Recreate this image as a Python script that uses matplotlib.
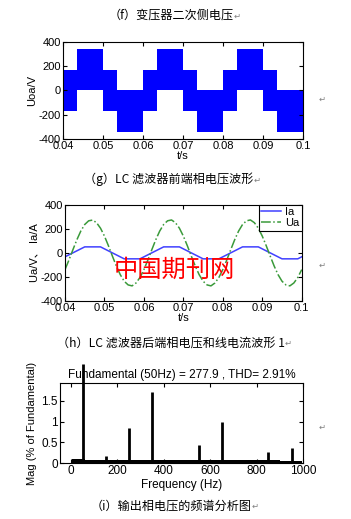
import numpy as np
import matplotlib
matplotlib.use('Agg')
import matplotlib.pyplot as plt

plt.rcParams['font.family'] = ['Liberation Sans', 'Noto Sans CJK SC', 'DejaVu Sans']
plt.rcParams['axes.unicode_minus'] = False

### (f) secondary side voltage: PWM envelope, band edges in time
uoa_edges = [0.040, 0.0435, 0.050, 0.0535, 0.060, 0.0635, 0.070,
             0.0735, 0.080, 0.0835, 0.090, 0.0935, 0.100]
uoa_high = [170, 340, 170, 0, 170, 340, 170, 0, 170, 340, 170, 0]
uoa_low = [-170, 0, -170, -340, -170, 0, -170, -340, -170, 0, -170, -340]

### (h) phase voltage / line current after the LC filter
ia_t = [0.040, 0.045, 0.049, 0.055, 0.059, 0.065, 0.069, 0.075,
        0.079, 0.085, 0.089, 0.095, 0.099, 0.100]
ia = [-33, 50, 50, -50, -50, 50, 50, -50, -50, 50, 50, -50, -50, -33]

ua_t = np.linspace(0.04, 0.1, 61)
ua = [-140, -60, 26, 109, 182, 237, 268, 274, 252, 206,
      140, 60, -26, -109, -182, -237, -268, -276, -252, -206,
      -140, -60, 26, 109, 182, 237, 268, 275, 252, 206,
      140, 60, -26, -109, -182, -237, -268, -276, -252, -206,
      -140, -60, 26, 109, 182, 237, 268, 275, 252, 206,
      140, 60, -26, -109, -182, -237, -268, -276, -252, -206,
      -140]

### (i) spectrum
harm_freq = [50, 150, 250, 350, 550, 650, 850, 950]
harm_mag = [100, 0.18, 0.85, 1.70, 0.43, 0.98, 0.27, 0.37]
floor_freq = [5, 60, 200, 300, 500, 700, 900, 995]
floor_mag = [0.10, 0.09, 0.08, 0.08, 0.07, 0.07, 0.06, 0.06]

time_ticks = [0.04, 0.05, 0.06, 0.07, 0.08, 0.09, 0.1]
time_labels = ['0.04', '0.05', '0.06', '0.07', '0.08', '0.09', '0.1']
volt_ticks = [-400, -200, 0, 200, 400]

fig = plt.figure(figsize=(3.51, 5.19), dpi=100)
grey = '#808080'
cjk = ['Noto Sans CJK SC', 'DejaVu Sans']


def style(ax):
    ax.tick_params(direction='in', top=True, right=True, length=3,
                   width=0.8, labelsize=8, pad=1.5)
    for s in ax.spines.values():
        s.set_linewidth(0.8)


def caption(x, y, s):
    t = fig.text(x, y, s, ha='center', va='center', fontsize=8.7, family=cjk)
    plt.annotate('\u21b5', xy=(1, 0.1), xycoords=t, ha='left', va='bottom',
                 fontsize=6, color=grey, family=['DejaVu Sans'])
    return t


# ---- (f) ----
ax1 = fig.add_axes([0.1795, 0.7322, 0.6838, 0.1869])
ax1.stairs(uoa_high, uoa_edges, baseline=uoa_low, fill=True, color='blue', lw=0)
ax1.set_xlim(0.04, 0.1)
ax1.set_ylim(-400, 400)
ax1.set_xticks(time_ticks, time_labels)
ax1.set_yticks(volt_ticks)
ax1.set_xlabel('t/s', fontsize=8, labelpad=0)
ax1.set_ylabel('Uoa/V', fontsize=8, labelpad=1)
style(ax1)

# ---- (h) ----
ax2 = fig.add_axes([0.1852, 0.4206, 0.6744, 0.1844])
ax2.plot(ia_t, ia, color='#4040ff', lw=1.1, label='Ia')
ax2.plot(ua_t, ua, color='#3a9a3a', lw=1.1, ls='-.', label='Ua')
ax2.set_xlim(0.04, 0.1)
ax2.set_ylim(-400, 400)
ax2.set_xticks(time_ticks, time_labels)
ax2.set_yticks(volt_ticks)
ax2.set_xlabel('t/s', fontsize=8, labelpad=0)
ax2.set_ylabel('Ua/V\u3001 Ia/A', fontsize=8, labelpad=1)
style(ax2)
leg = ax2.legend(loc='upper right', borderaxespad=0, fontsize=8,
                 handlelength=1.8, handletextpad=0.4, borderpad=0.2,
                 labelspacing=0.1, fancybox=False, framealpha=1)
leg.get_frame().set_edgecolor('black')
leg.get_frame().set_linewidth(0.8)

# watermark
fig.text(0.496, 1 - 270 / 519, '中国期刊网', color='red', fontsize=17.5,
         weight='medium', ha='center', va='center', family=cjk, zorder=10)

# ---- (i) ----
ax3 = fig.add_axes([0.1709, 0.1073, 0.6932, 0.1541])
ax3.fill_between(floor_freq, 0, floor_mag, step='post', color='black', lw=0)
shown = np.minimum(harm_mag, 2.38)
ax3.vlines(harm_freq, 0, shown, color='black', lw=2, clip_on=False)
ax3.set_xlim(-47, 1000)
ax3.set_ylim(0, 1.92)
ax3.set_xticks([0, 200, 400, 600, 800, 1000])
ax3.set_yticks([0, 0.5, 1, 1.5], ['0', '0.5', '1', '1.5'])
ax3.set_xlabel('Frequency (Hz)', fontsize=8.5, labelpad=1)
ax3.set_ylabel('Mag (% of Fundamental)', fontsize=8, labelpad=3)
ax3.set_title('Fundamental (50Hz) = 277.9 , THD= 2.91%', fontsize=8.5, pad=4)
style(ax3)
ax3.tick_params(labelsize=8.5)

# captions
caption(0.487, 1 - 15.5 / 519, '（f）变压器二次侧电压')
caption(0.482, 1 - 179 / 519, '（g）LC 滤波器前端相电压波形')
caption(0.487, 1 - 343 / 519, '（h）LC 滤波器后端相电压和线电流波形 1')
caption(0.487, 1 - 506 / 519, '（i）输出相电压的频谱分析图')

# loose return marks on the right
for yy in [99, 265, 427]:
    fig.text(322 / 351, 1 - yy / 519, '\u21b5', fontsize=6, color=grey,
             ha='center', va='center', family=['DejaVu Sans'])

fig.savefig('out.png', dpi=100)
